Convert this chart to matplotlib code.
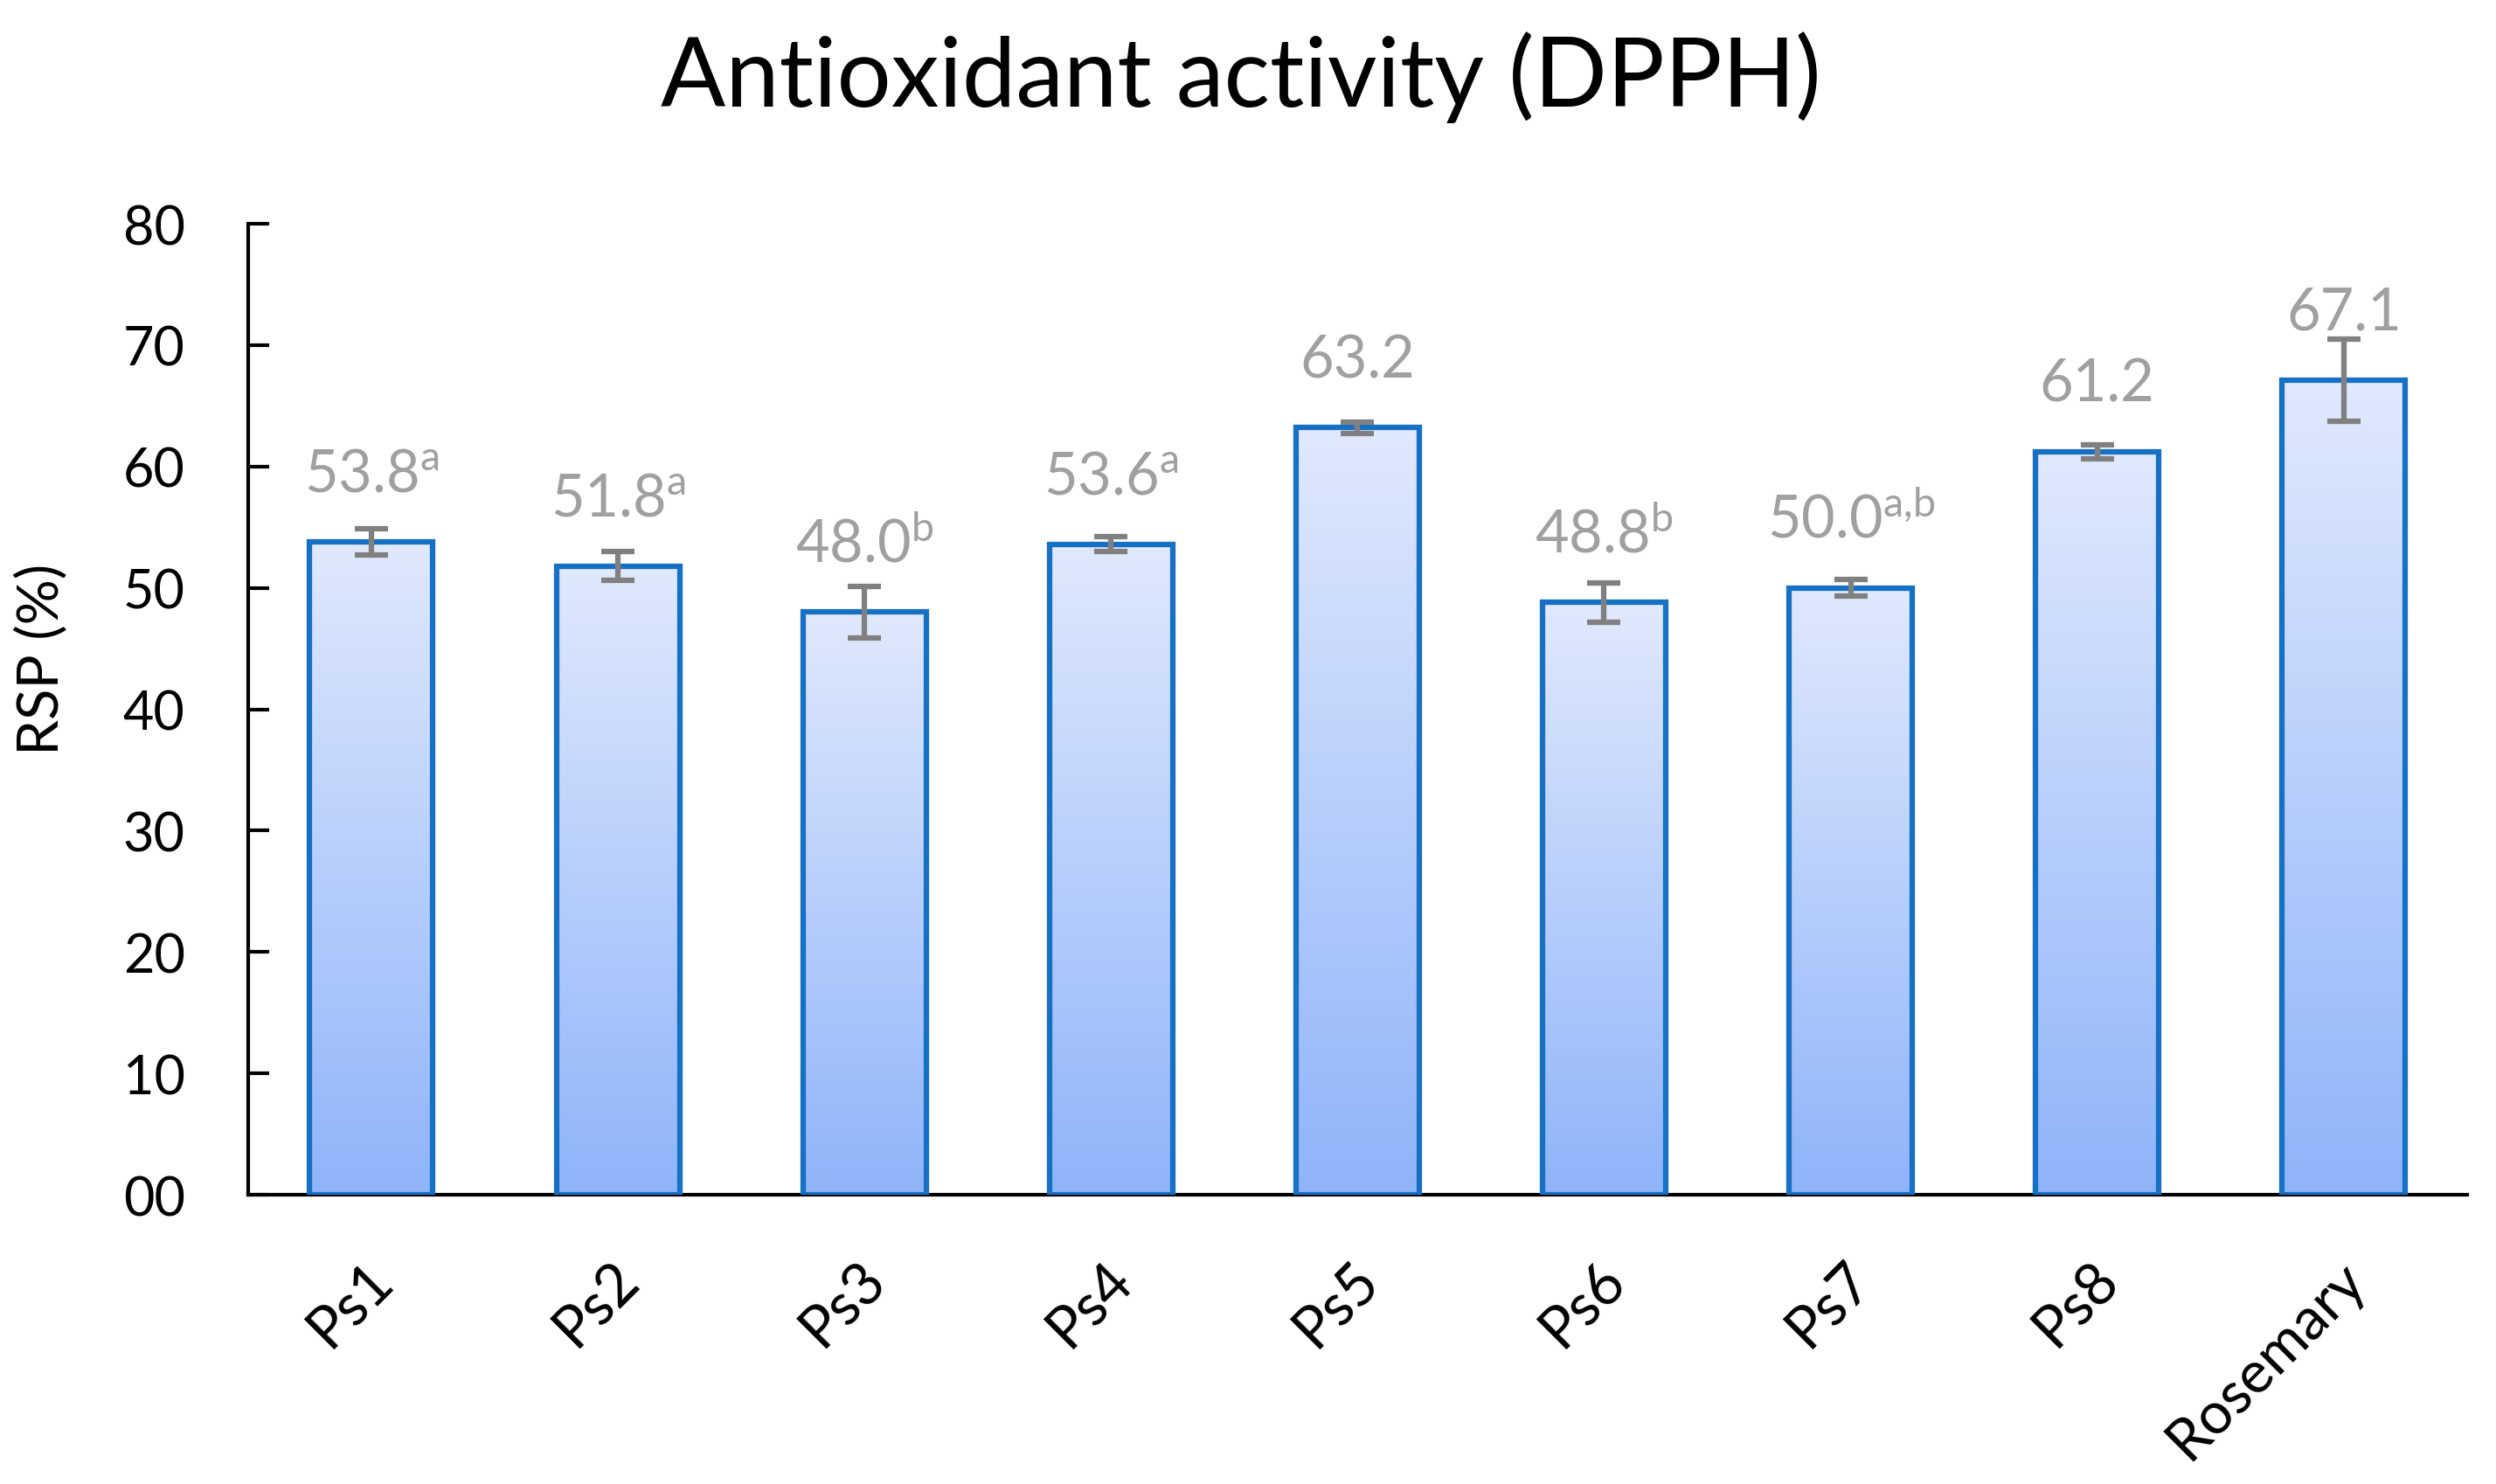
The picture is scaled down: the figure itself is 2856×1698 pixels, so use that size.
import matplotlib
matplotlib.use("Agg")
import matplotlib.pyplot as plt
import numpy as np
from matplotlib.colors import LinearSegmentedColormap
from matplotlib.ticker import FormatStrFormatter, MultipleLocator
from matplotlib.transforms import ScaledTranslation

plt.rcParams['font.family'] = ['Lato', 'DejaVu Sans']
plt.rcParams['mathtext.fontset'] = 'custom'
plt.rcParams['mathtext.rm'] = 'Lato'
plt.rcParams['mathtext.it'] = 'Lato:italic'

# data
samples = ['Ps1', 'Ps2', 'Ps3', 'Ps4', 'Ps5', 'Ps6', 'Ps7', 'Ps8', 'Rosemary']
rsp = [53.8, 51.8, 48.0, 53.6, 63.2, 48.8, 50.0, 61.2, 67.1]
sd = [1.1, 1.2, 2.1, 0.6, 0.45, 1.6, 0.7, 0.6, 3.4]
letters = ['a', 'a', 'b', 'a', '', 'b', 'a{,}b', '', '']

edge_col = '#1670C4'
grad = LinearSegmentedColormap.from_list('bars', ['#8FB4FA', '#E0E9FD'])

fig = plt.figure(figsize=(28.56, 16.99), dpi=100)
ax = fig.add_axes([0.0994, 0.1948, 0.8890, 0.6539])

x = np.arange(len(samples))
bars = ax.bar(x, rsp, width=0.5, color='none', edgecolor=edge_col, linewidth=4.5, zorder=3)

# gradient fill, clipped to each bar
g = np.linspace(0, 1, 256).reshape(-1, 1)
for b in bars:
    x0, w, h = b.get_x(), b.get_width(), b.get_height()
    im = ax.imshow(g, extent=[x0, x0 + w, 0, h], origin='lower', aspect='auto',
                   cmap=grad, zorder=2, interpolation='bilinear')
    im.set_clip_path(b)

ax.errorbar(x, rsp, yerr=sd, fmt='none', ecolor='#808080', elinewidth=4.5,
            capsize=14, capthick=4.5, zorder=4)

for xi, v, l in zip(x, rsp, letters):
    s = f'{v:.1f}'
    if l:
        s += r'$^{\mathrm{' + l + '}}$'
    ax.text(xi, v + 4.2, s, ha='center', va='baseline', fontsize=48, color='#A0A0A0')

ax.set_xlim(-0.5, len(samples) - 0.5)
ax.set_ylim(0, 80)
ax.yaxis.set_major_locator(MultipleLocator(10))
ax.yaxis.set_major_formatter(FormatStrFormatter('%02d'))

for side in ['top', 'right']:
    ax.spines[side].set_visible(False)
for side in ['left', 'bottom']:
    ax.spines[side].set_linewidth(3)
    ax.spines[side].set_color('black')

ax.tick_params(axis='y', direction='in', length=17, width=3, pad=52, labelsize=44)
ax.tick_params(axis='x', length=0, pad=62, labelsize=48)
ax.set_xticks(x, samples, rotation=45, ha='right', va='center', rotation_mode='anchor')
for lbl in ax.get_xticklabels():
    lbl.set_transform(lbl.get_transform() + ScaledTranslation(0.14, 0, fig.dpi_scale_trans))

ax.set_ylabel('RSP (%)', fontsize=47, va='center')
ax.yaxis.set_label_coords(-0.0933, 0.552)

fig.text(1420 / 2856, 1 - 122 / 1699, 'Antioxidant activity (DPPH)',
         ha='center', va='baseline', fontsize=79)

fig.savefig('out.png', dpi=100)
